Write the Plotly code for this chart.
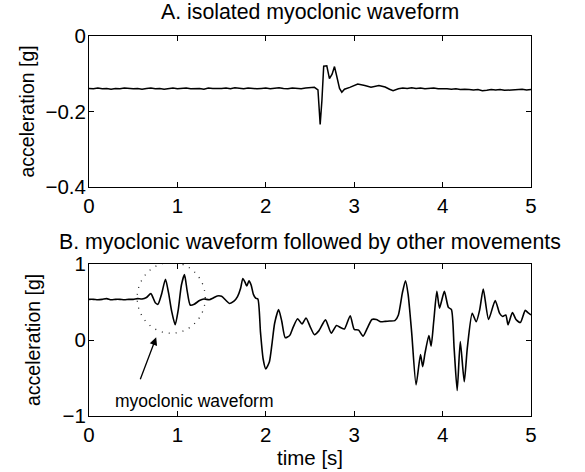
import plotly.graph_objects as go

# ---- Panel A: isolated myoclonic waveform (time [s], acceleration [g]) ----
time_a = [0.00, 0.05, 0.10, 0.15, 0.20, 0.25, 0.30, 0.35, 0.40, 0.45,
          0.50, 0.55, 0.60, 0.65, 0.70, 0.75, 0.80, 0.85, 0.90, 0.95,
          1.00, 1.05, 1.10, 1.15, 1.20, 1.25, 1.30, 1.35, 1.40, 1.45,
          1.50, 1.55, 1.60, 1.65, 1.70, 1.75, 1.80, 1.85, 1.90, 1.95,
          2.00, 2.05, 2.10, 2.15, 2.20, 2.25, 2.30, 2.35, 2.40, 2.45,
          2.50, 2.55, 2.59, 2.615, 2.635, 2.655, 2.69, 2.72, 2.75, 2.777,
          2.80, 2.834, 2.86, 2.89, 2.95, 3.04, 3.12, 3.19, 3.28, 3.35,
          3.40, 3.44, 3.50, 3.55, 3.60, 3.65, 3.70, 3.75, 3.80, 3.85,
          3.90, 3.95, 4.00, 4.05, 4.10, 4.15, 4.20, 4.25, 4.30, 4.35,
          4.40, 4.45, 4.50, 4.55, 4.60, 4.65, 4.70, 4.75, 4.80, 4.85,
          4.90, 4.95, 5.00]
accel_a = [-0.139, -0.140, -0.138, -0.140, -0.139, -0.141, -0.139, -0.140, -0.138, -0.139,
           -0.140, -0.139, -0.141, -0.139, -0.138, -0.140, -0.139, -0.141, -0.139, -0.138,
           -0.140, -0.139, -0.138, -0.140, -0.139, -0.139, -0.141, -0.138, -0.139, -0.140,
           -0.139, -0.138, -0.140, -0.137, -0.139, -0.140, -0.138, -0.139, -0.140, -0.139,
           -0.138, -0.140, -0.139, -0.137, -0.139, -0.140, -0.138, -0.139, -0.140, -0.138,
           -0.137, -0.136, -0.143, -0.234, -0.170, -0.080, -0.079, -0.113, -0.101, -0.081,
           -0.104, -0.139, -0.149, -0.141, -0.136, -0.127, -0.131, -0.136, -0.131, -0.135,
           -0.141, -0.145, -0.140, -0.138, -0.139, -0.137, -0.139, -0.138, -0.140, -0.139,
           -0.138, -0.140, -0.139, -0.140, -0.141, -0.140, -0.142, -0.141, -0.142, -0.143,
           -0.142, -0.145, -0.144, -0.142, -0.143, -0.142, -0.144, -0.143, -0.142, -0.143,
           -0.141, -0.143, -0.142]

# ---- Panel B: myoclonic waveform followed by other movements ----
time_b = [0.00, 0.05, 0.10, 0.15, 0.20, 0.25, 0.30, 0.35, 0.40, 0.45,
          0.50, 0.55, 0.60, 0.65, 0.70, 0.75, 0.78, 0.82, 0.865, 0.90,
          0.935, 0.975, 1.01, 1.045, 1.08, 1.11, 1.145, 1.19, 1.25, 1.30,
          1.36, 1.40, 1.45, 1.50, 1.55, 1.59, 1.64, 1.68, 1.715, 1.74,
          1.765, 1.785, 1.81, 1.835, 1.86, 1.885, 1.91, 1.94, 1.97, 2.00,
          2.04, 2.07, 2.10, 2.145, 2.18, 2.22, 2.27, 2.31, 2.36, 2.41,
          2.455, 2.50, 2.55, 2.60, 2.675, 2.74, 2.80, 2.85, 2.89, 2.955,
          3.00, 3.05, 3.10, 3.15, 3.20, 3.25, 3.30, 3.35, 3.40, 3.46,
          3.50, 3.545, 3.58, 3.61, 3.65, 3.70, 3.75, 3.775, 3.80, 3.845,
          3.87, 3.90, 3.935, 3.965, 4.02, 4.065, 4.10, 4.13, 4.165, 4.20,
          4.245, 4.28, 4.335, 4.38, 4.42, 4.46, 4.52, 4.595, 4.645, 4.68,
          4.715, 4.74, 4.79, 4.83, 4.88, 4.935, 4.965, 5.00]
accel_b = [0.535, 0.535, 0.530, 0.535, 0.545, 0.530, 0.535, 0.535, 0.530, 0.535,
           0.535, 0.545, 0.540, 0.560, 0.610, 0.490, 0.470, 0.600, 0.800, 0.620,
           0.380, 0.200, 0.400, 0.720, 0.860, 0.650, 0.460, 0.470, 0.520, 0.540,
           0.530, 0.550, 0.580, 0.575, 0.520, 0.480, 0.510, 0.570, 0.680, 0.810,
           0.760, 0.710, 0.780, 0.720, 0.600, 0.550, 0.540, 0.100, -0.250, -0.380,
           -0.290, -0.050, 0.220, 0.400, 0.250, 0.030, 0.060, 0.170, 0.280, 0.210,
           0.290, 0.180, 0.070, 0.120, 0.265, 0.090, 0.190, 0.160, 0.145, 0.320,
           0.140, 0.130, 0.050, 0.160, 0.270, 0.270, 0.240, 0.245, 0.250, 0.255,
           0.330, 0.620, 0.780, 0.600, 0.100, -0.590, -0.190, -0.350, -0.180, 0.060,
           -0.080, 0.250, 0.640, 0.420, 0.640, 0.430, 0.400, -0.100, -0.665, -0.020,
           -0.550, -0.100, 0.350, 0.240, 0.400, 0.670, 0.270, 0.520, 0.350, 0.310,
           0.330, 0.200, 0.360, 0.270, 0.230, 0.390, 0.360, 0.330]

x_ticks = [0, 1, 2, 3, 4, 5]
y_ticks_a = [-0.4, -0.2, 0]
y_ticks_b = [-1, 0, 1]

FONT = "Liberation Sans, Arial, Helvetica, sans-serif"

fig = go.Figure()
fig.add_trace(go.Scatter(x=time_a, y=accel_a, mode="lines", xaxis="x", yaxis="y",
                         line=dict(color="black", width=1.5), showlegend=False,
                         hoverinfo="skip"))
fig.add_trace(go.Scatter(x=time_b, y=accel_b, mode="lines", xaxis="x2", yaxis="y2",
                         line=dict(color="black", width=1.6, shape="spline", smoothing=0.6),
                         showlegend=False, hoverinfo="skip"))

axis_common = dict(showline=True, linecolor="black", linewidth=1, mirror="ticks",
                   ticks="inside", ticklen=5, tickwidth=1, tickcolor="black",
                   showgrid=False, zeroline=False,
                   tickfont=dict(family=FONT, size=20.5, color="black"))

fig.update_layout(
    width=585, height=472,
    margin=dict(l=89, r=54, t=36, b=56),
    paper_bgcolor="white", plot_bgcolor="white",
    font=dict(family=FONT, color="black"),
    xaxis=dict(domain=[0, 1], range=[0, 5], tickvals=x_ticks, anchor="y", **axis_common),
    yaxis=dict(domain=[0.6026, 1], range=[-0.4, 0], tickvals=y_ticks_a, anchor="x",
               ticklabelstandoff=-2, **axis_common),
    xaxis2=dict(domain=[0, 1], range=[0, 5], tickvals=x_ticks, anchor="y2", **axis_common),
    yaxis2=dict(domain=[0, 0.4], range=[-1, 1], tickvals=y_ticks_b, anchor="x2",
                ticklabelstandoff=-2, **axis_common),
)

annotations = [
    dict(text="A. isolated myoclonic waveform", xref="paper", yref="paper", x=0.5, y=1.062,
         xanchor="center", yanchor="middle", showarrow=False, font=dict(size=21.3)),
    dict(text="B. myoclonic waveform followed by other movements", xref="paper", yref="paper",
         x=0.5, y=0.4566, xanchor="center", yanchor="middle", showarrow=False, font=dict(size=21.3)),
    dict(text="acceleration [g]", xref="paper", yref="paper", x=-0.1425, y=0.8013,
         xanchor="center", yanchor="middle", textangle=-90, showarrow=False, font=dict(size=19.5)),
    dict(text="acceleration [g]", xref="paper", yref="paper", x=-0.1267, y=0.2,
         xanchor="center", yanchor="middle", textangle=-90, showarrow=False, font=dict(size=19.5)),
    dict(text="time [s]", xref="paper", yref="paper", x=0.5, y=-0.108,
         xanchor="center", yanchor="middle", showarrow=False, font=dict(size=20.5)),
    dict(text="myoclonic waveform", xref="x2", yref="y2", x=1.195, y=-0.806,
         xanchor="center", yanchor="middle", showarrow=False, font=dict(size=17.5)),
    dict(text="", xref="x2", yref="y2", x=0.76, y=0.036, axref="x2", ayref="y2",
         ax=0.574, ay=-0.537, showarrow=True, arrowhead=2, arrowsize=1.2,
         arrowwidth=1.3, arrowcolor="black"),
]
fig.update_layout(annotations=annotations)

fig.add_shape(type="circle", xref="x2", yref="y2", x0=0.545, x1=1.315, y0=0.089, y1=1.021,
              line=dict(color="#222222", width=1.3, dash="1px,6px"))

fig.write_html("out.html",
               config={"displayModeBar": False, "staticPlot": True},
               post_script="document.body.style.margin='0';document.body.style.padding='0';"
                           "document.body.style.overflow='hidden';")
